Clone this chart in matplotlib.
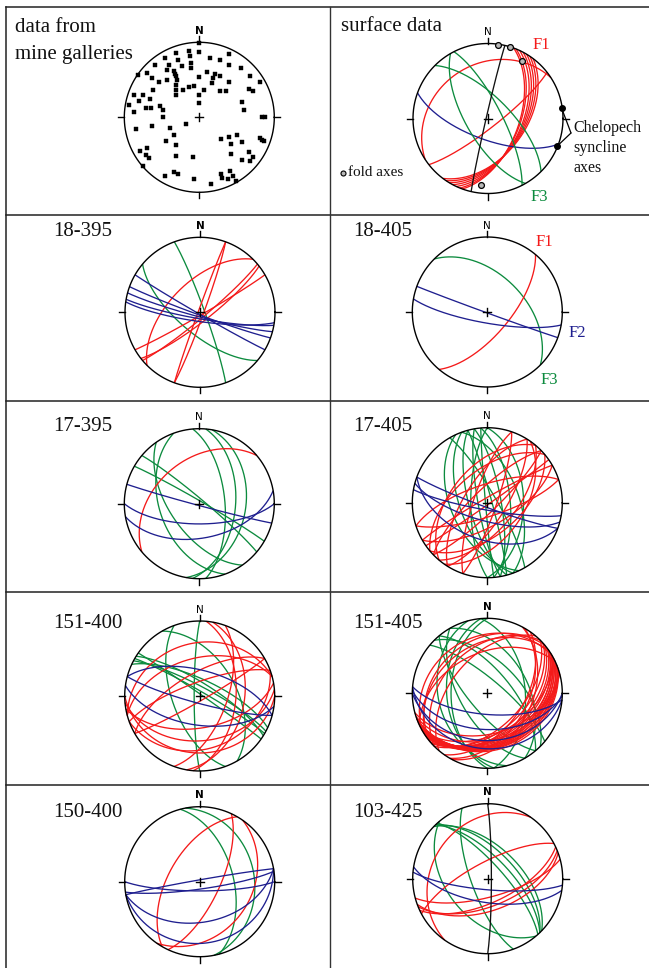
import numpy as np
import matplotlib
matplotlib.use("Agg")
import matplotlib.pyplot as plt

W, H = 649, 968
RED = '#f41a1a'
GREEN = '#0c8b3e'
BLUE = '#1f1f8f'
BLACK = '#111111'
SERIF = ['Liberation Serif', 'DejaVu Serif']

# ---------------- data: planes as (dip direction, dip), lines as (trend, plunge)
# mine galleries: poles to planes
gallery_poles = [
    (340, 9), (351, 11), (0, 14), (25, 8), (330, 9), (340, 20), (351, 18), (10, 21), (20, 20), (320, 9),
    (330, 20), (341, 29), (351, 28), (30, 21), (40, 15), (305, 1), (310, 9), (326, 25), (331, 30), (331, 34),
    (330, 37), (350, 34), (10, 39), (20, 38), (0, 45), (310, 19), (311, 29), (319, 34), (329, 41), (27, 38),
    (20, 44), (21, 50), (40, 39), (51, 14), (60, 7), (342, 55), (351, 55), (330, 55), (319, 50), (324, 46),
    (10, 60), (39, 53), (45, 49), (300, 29), (289, 8), (292, 20), (60, 25), (64, 21), (314, 55), (0, 66),
    (290, 31), (285, 18), (280, 5), (280, 29), (281, 35), (286, 45), (281, 49), (0, 74), (70, 39), (81, 39),
    (275, 14), (270, 50), (90, 18), (90, 13), (245, 74), (260, 36), (260, 15), (249, 56), (236, 56), (235, 45),
    (220, 50), (135, 56), (124, 51), (115, 44), (130, 44), (120, 35), (109, 16), (110, 12), (110, 9), (240, 20),
    (240, 10), (235, 14), (231, 14), (211, 40), (189, 45), (139, 35), (125, 20), (127, 12), (135, 20), (131, 12),
    (229, 1), (210, 10), (205, 20), (200, 20), (185, 18), (159, 20), (159, 15), (150, 18), (150, 10), (155, 10),
    (150, 2), (170, 10), (0, 1),
]

# surface data
surf_f1 = [(327, 28), (142, 80), (110, 56), (112, 55), (115, 53), (118, 52), (121, 51), (124, 50), (127, 49)]
surf_f2 = [(200, 67)]
surf_f3 = [(240, 66), (63, 75), (45, 67)]
surf_girdle = [(283, 88)]
surf_fold_axes = [(8, 1), (17, 1), (31, 12), (186, 12)]
surf_syncline_axes = [(82, 1), (112, 1)]

# 18-395
s18_395_f1 = [(315, 57), (110, 86), (290, 88), (150, 87), (140, 84), (142, 80)]
s18_395_f2 = [(210, 88), (200, 87), (195, 85), (190, 83), (188, 80)]
s18_395_f3 = [(70, 85), (220, 67)]

# 18-405
s18_405_f1 = [(130, 66)]
s18_405_f2 = [(200, 89), (190, 78)]
s18_405_f3 = [(45, 49)]

# 17-395
s17_395_f1 = [(320, 41)]
s17_395_f2 = [(195, 88), (180, 68), (170, 52)]
s17_395_f3 = [(250, 46), (235, 58), (95, 50), (100, 38), (40, 85), (30, 87), (85, 62)]

# 17-405
s17_405_f1 = [(162, 75), (342, 70), (136, 80), (316, 75), (122, 70), (302, 65), (109, 80), (289, 75),
              (140, 55), (150, 65), (320, 55), (130, 60), (330, 85), (145, 88), (125, 50), (310, 50)]
s17_405_f2 = [(190, 82), (200, 85), (200, 49), (195, 70)]
s17_405_f3 = [(250, 60), (255, 70), (260, 80), (265, 88), (75, 85), (80, 75), (85, 65), (70, 55),
              (90, 50), (60, 80), (245, 50), (270, 72)]

# 151-400
s151_400_f1 = [(100, 40), (95, 50), (345, 48), (345, 30), (175, 40), (170, 55), (150, 85), (160, 30),
               (330, 65), (110, 60), (340, 75), (180, 25)]
s151_400_f2 = [(15, 62), (195, 82), (188, 58)]
s151_400_f3 = [(30, 85), (28, 80), (32, 76), (25, 72), (35, 88), (270, 84), (60, 50), (250, 60)]

# 151-405
s151_405_f1 = [(160, 28), (158, 30), (155, 32), (152, 34), (150, 36), (148, 38), (145, 40), (143, 42),
               (140, 44), (160, 25), (157, 27), (154, 29), (150, 31), (147, 33), (144, 35), (162, 38),
               (165, 45), (138, 48), (135, 52), (150, 45), (120, 45), (125, 50), (118, 40),
               (320, 30), (325, 35), (315, 40), (330, 25), (310, 50), (335, 45)]
s151_405_f2 = [(185, 67), (182, 50), (180, 37), (185, 27)]
s151_405_f3 = [(270, 50), (265, 45), (45, 55), (50, 65), (60, 45), (85, 48), (240, 60), (230, 70),
               (40, 75), (255, 35)]

# 150-400
s150_400_f1 = [(300, 56), (115, 68), (125, 31)]
s150_400_f2 = [(180, 80), (350, 88), (172, 82), (170, 45), (170, 19)]
s150_400_f3 = [(75, 53), (79, 28)]

# 103-425
s103_425_f1 = [(332, 72), (305, 26), (158, 60), (160, 55), (155, 64), (165, 70)]
s103_425_f2 = [(185, 78), (189, 64)]
s103_425_f3 = [(250, 72), (46, 67), (46, 60), (44, 55), (48, 74), (230, 45)]
s103_425_girdle = [(90, 86)]

panel_titles = ['18-395', '18-405', '17-395', '17-405', '151-400', '151-405', '150-400', '103-425']


# ---------------- Schmidt net (equal-area, lower hemisphere)
def project(trend, plunge):
    t = np.radians(trend)
    p = np.radians(plunge)
    r = np.sqrt(2) * np.sin((np.pi / 2 - p) / 2)
    return r * np.sin(t), r * np.cos(t)


def great_circle(dd, dip, n=241):
    a = np.linspace(0, np.pi, n)
    ddr, dr = np.radians(dd), np.radians(dip)
    st = ddr - np.pi / 2
    s = np.array([np.cos(st), np.sin(st), 0.0])
    d = np.array([np.cos(dr) * np.cos(ddr), np.cos(dr) * np.sin(ddr), np.sin(dr)])
    v = np.outer(np.cos(a), s) + np.outer(np.sin(a), d)
    plunge = np.degrees(np.arcsin(np.clip(v[:, 2], 0, 1)))
    trend = np.degrees(np.arctan2(v[:, 1], v[:, 0]))
    return project(trend, plunge)


fig = plt.figure(figsize=(W / 100, H / 100), dpi=100)
bg = fig.add_axes([0, 0, 1, 1])
bg.set_xlim(0, W)
bg.set_ylim(H, 0)
bg.axis('off')

# table frame
for y in [7, 215, 401, 592, 785]:
    bg.plot([6, W], [y, y], color='#222222', lw=1.1)
bg.plot([6, 6], [7, H], color='#222222', lw=1.1)
bg.plot([330, 330], [7, H], color='#333333', lw=1.0)

R = 75.0
PAD = 1.3


def net(cx, cy, bold_n=True):
    ax = fig.add_axes([(cx - PAD * R) / W, 1 - (cy + PAD * R) / H, 2 * PAD * R / W, 2 * PAD * R / H])
    ax.set_xlim(-PAD, PAD)
    ax.set_ylim(-PAD, PAD)
    ax.set_aspect('equal')
    ax.axis('off')
    th = np.linspace(0, 2 * np.pi, 400)
    ax.plot(np.cos(th), np.sin(th), color='k', lw=1.0, zorder=6)
    for ang in (0, 90, 180, 270):
        t = np.radians(ang)
        ax.plot([np.sin(t), 1.08 * np.sin(t)], [np.cos(t), 1.08 * np.cos(t)], color='k', lw=1.0, zorder=6)
    ax.plot([-0.055, 0.055], [0, 0], color='k', lw=1.0, zorder=6)
    ax.plot([0, 0], [-0.055, 0.055], color='k', lw=1.0, zorder=6)
    ax.text(0, 1.15, 'N', ha='center', va='center', fontsize=7.5,
            fontweight='bold' if bold_n else 'normal', family='DejaVu Sans')
    return ax


def draw_planes(ax, planes, color, lw=0.95):
    for dd, dip in planes:
        x, y = great_circle(dd, dip)
        ax.plot(x, y, color=color, lw=lw, solid_capstyle='butt', zorder=3)


# ---- row 1, left: poles from mine galleries
ax1 = net(199.3, 117.3)
tr = np.array([p[0] for p in gallery_poles], float)
pl = np.array([p[1] for p in gallery_poles], float)
px, py = project(tr, pl)
ax1.plot(px, py, 's', color='k', ms=2.3, mec='k', mew=0.3, zorder=4)

# ---- row 1, right: surface data
ax2 = net(488, 118.5, bold_n=False)
draw_planes(ax2, surf_f1, RED)
draw_planes(ax2, surf_f2, BLUE)
draw_planes(ax2, surf_f3, GREEN)
draw_planes(ax2, surf_girdle, BLACK)
fx, fy = project(np.array([a[0] for a in surf_fold_axes]), np.array([a[1] for a in surf_fold_axes]))
ax2.plot(fx, fy, 'o', ms=4.2, mfc='#b8b8b8', mec='k', mew=0.9, zorder=7)
sx, sy = project(np.array([a[0] for a in surf_syncline_axes]), np.array([a[1] for a in surf_syncline_axes]))
ax2.plot(sx, sy, 'o', ms=4.0, mfc='k', mec='k', zorder=7)
for xx, yy in zip(sx, sy):
    ax2.annotate('', xy=(xx, yy), xytext=(571, 133), textcoords=bg.transData,
                 arrowprops=dict(arrowstyle='-', color='k', lw=0.9, shrinkA=0, shrinkB=0))

# ---- rows 2-5
centres = [(200, 312.3), (487.3, 312), (199.3, 503.7), (487.3, 502.7),
           (199.7, 696), (487.3, 693.3), (199.7, 881.7), (487.7, 878.7)]
bold_flags = [True, False, False, False, False, True, True, True]
sets = [
    (s18_395_f1, s18_395_f2, s18_395_f3, []),
    (s18_405_f1, s18_405_f2, s18_405_f3, []),
    (s17_395_f1, s17_395_f2, s17_395_f3, []),
    (s17_405_f1, s17_405_f2, s17_405_f3, []),
    (s151_400_f1, s151_400_f2, s151_400_f3, []),
    (s151_405_f1, s151_405_f2, s151_405_f3, []),
    (s150_400_f1, s150_400_f2, s150_400_f3, []),
    (s103_425_f1, s103_425_f2, s103_425_f3, s103_425_girdle),
]
for (cx, cy), bflag, (f1, f2, f3, gird) in zip(centres, bold_flags, sets):
    ax = net(cx, cy, bold_n=bflag)
    draw_planes(ax, f3, GREEN)
    draw_planes(ax, f1, RED)
    draw_planes(ax, f2, BLUE)
    draw_planes(ax, gird, BLACK)

# ---- text
big = dict(family=SERIF, fontsize=15, va='baseline', ha='left', color='#111111')
bg.text(15, 32, 'data from', **big)
bg.text(15, 59, 'mine galleries', **big)
bg.text(341, 31, 'surface data', **big)
label_pos = [(53, 236), (353, 236), (53, 431), (353, 431), (53, 628), (353, 628), (53, 817), (353, 817)]
for (x, y), t in zip(label_pos, panel_titles):
    bg.text(x, y, t, **big)

mid = dict(family=SERIF, fontsize=12, va='center', ha='center')
bg.text(541, 45, 'F1', color=RED, **mid)
bg.text(539, 197, 'F3', color=GREEN, **mid)
bg.text(544, 242, 'F1', color=RED, **mid)
bg.text(577, 333, 'F2', color=BLUE, **mid)
bg.text(549, 380, 'F3', color=GREEN, **mid)

small = dict(family=SERIF, fontsize=11.5, va='center', ha='left', color='#111111')
bg.text(573, 128, 'Chelopech', **small)
bg.text(573, 148, 'syncline', **small)
bg.text(573, 168, 'axes', **small)
bg.plot([343], [173], 'o', ms=3.6, mfc='#b8b8b8', mec='k', mew=0.8)
bg.text(348, 173, 'fold axes', family=SERIF, fontsize=11, va='center', ha='left', color='#111111')

fig.savefig('out.png', dpi=100)
